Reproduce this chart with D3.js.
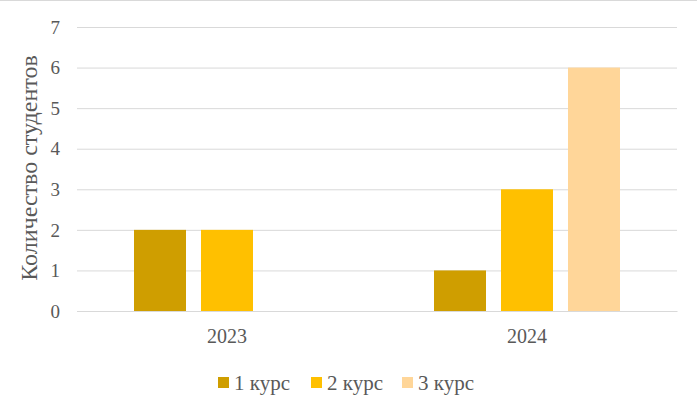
<!DOCTYPE html>
<html><head><meta charset="utf-8">
<script src="https://cdn.jsdelivr.net/npm/d3@7"></script>
<style>
html,body{margin:0;padding:0;background:#fff;}
</style></head>
<body>
<svg id="chart" width="697" height="402"></svg>
<script>
const categories = ["2023", "2024"];
const seriesNames = ["1 курс", "2 курс", "3 курс"];
const series1 = [2, 1];
const series2 = [2, 3];
const series3 = [0, 6];
const yTicks = [0, 1, 2, 3, 4, 5, 6, 7];
const colors = ["#CF9E00", "#FFC000", "#FFD699"];
const yTitle = "Количество студентов";
const FONT = "'Liberation Serif', 'Times New Roman', 'DejaVu Serif', serif";

const svg = d3.select("#chart");
const W = 697, H = 402;
const m = {left: 77, right: 20, top: 27, bottom: 91};

svg.append("rect").attr("x", 0).attr("y", 0).attr("width", W).attr("height", H).attr("fill", "#fff");
svg.append("line").attr("x1", 0).attr("x2", W).attr("y1", 0.5).attr("y2", 0.5).attr("stroke", "#d9d9d9");

const x0 = d3.scaleBand().domain(categories).range([m.left, W - m.right]).paddingInner(0).paddingOuter(0);
const groupW = x0.bandwidth() * 0.62;
const x1 = d3.scaleBand().domain(seriesNames)
  .range([(x0.bandwidth() - groupW) / 2, (x0.bandwidth() + groupW) / 2])
  .paddingInner(0.224).paddingOuter(0);
const y = d3.scaleLinear().domain([0, 7]).range([H - m.bottom, m.top]);

const yAxis = d3.axisLeft(y).tickValues(yTicks).tickSize(-(W - m.right - m.left)).tickFormat(d3.format("d"));
const gy = svg.append("g").attr("transform", `translate(${m.left},0)`).call(yAxis);
gy.select(".domain").remove();
gy.selectAll(".tick line").attr("stroke", "#d9d9d9").attr("stroke-width", 1);
gy.selectAll(".tick text").attr("x", -17).attr("dy", "0.33em")
  .style("font-size", "19px").style("font-family", FONT).style("fill", "#595959");

const data = categories.map((c, i) => ({cat: c, vals: [series1[i], series2[i], series3[i]]}));
const groups = svg.append("g").selectAll("g").data(data).join("g")
  .attr("transform", d => `translate(${x0(d.cat)},0)`);
groups.selectAll("rect").data(d => d.vals.map((v, j) => ({s: seriesNames[j], v, j})))
  .join("rect")
  .attr("x", d => x1(d.s)).attr("width", x1.bandwidth())
  .attr("y", d => y(d.v)).attr("height", d => y(0) - y(d.v))
  .attr("fill", d => colors[d.j]);

const xAxis = d3.axisBottom(x0).tickSize(0);
const gx = svg.append("g").attr("transform", `translate(0,${y(0)})`).call(xAxis);
gx.select(".domain").attr("stroke", "#d9d9d9");
gx.selectAll(".tick text").attr("y", 32).attr("dy", 0)
  .style("font-size", "20px").style("font-family", FONT).style("fill", "#595959");

svg.append("text").attr("transform", `translate(37,168) rotate(-90)`)
  .attr("text-anchor", "middle").style("font-size", "24px").style("font-family", FONT).style("fill", "#595959").text(yTitle);

const legX = [218, 311, 402];
const leg = svg.append("g").selectAll("g").data(seriesNames).join("g")
  .attr("transform", (d, i) => `translate(${legX[i]},377)`);
leg.append("rect").attr("width", 11).attr("height", 11).attr("fill", (d, i) => colors[i]);
leg.append("text").attr("x", 16).attr("y", 13)
  .style("font-size", "21px").style("font-family", FONT).style("fill", "#595959").text(d => d);
</script>
</body></html>
